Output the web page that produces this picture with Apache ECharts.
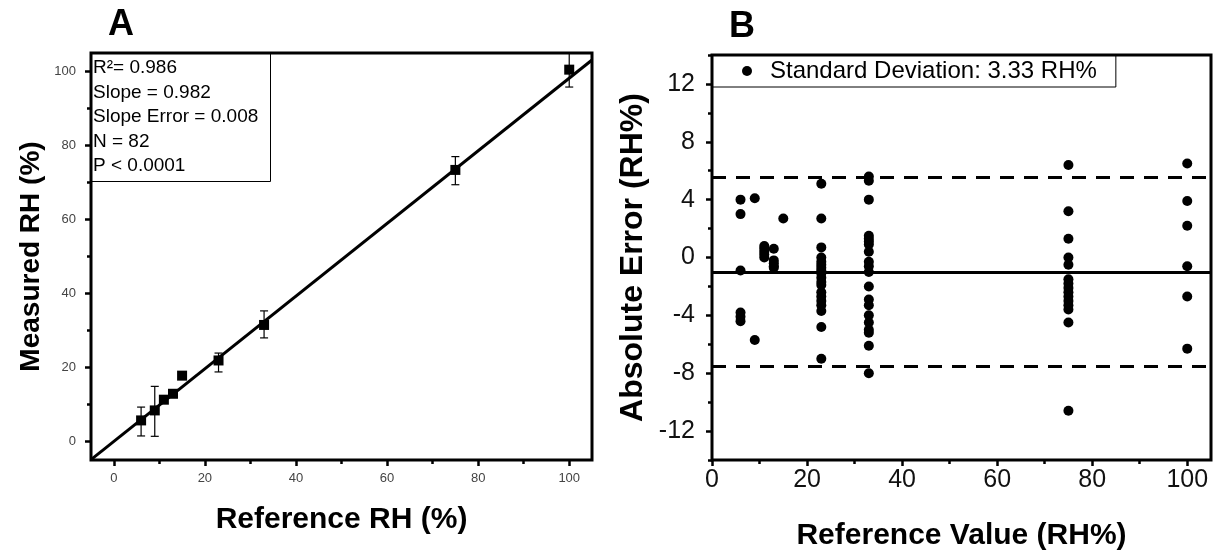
<!DOCTYPE html>
<html>
<head>
<meta charset="utf-8">
<script src="https://cdn.jsdelivr.net/npm/echarts@6/dist/echarts.min.js"></script>
<style>
  html, body { margin: 0; padding: 0; background: #fff; }
  #chart { width: 1225px; height: 552px; }
</style>
</head>
<body>
<div id="chart"></div>
<script>
// Panel A: measured vs reference humidity (means with error bars) and linear fit
const refA      = [6, 9, 11, 13, 15, 23, 33, 75, 100];
const measuredA = [5.7, 8.4, 11.3, 12.9, 17.8, 21.9, 31.5, 73.4, 100.5];
const errLowA   = [1.5, 1.4, null, null, null, 18.8, 28.0, 69.4, 95.8];
const errHighA  = [9.3, 14.9, null, null, null, 23.9, 35.3, 77.0, 105.0];
const fitSlope = 0.982;
const fitIntercept = 0.0;
const statsLines = ['R\u00B2= 0.986', 'Slope = 0.982', 'Slope Error = 0.008', 'N = 82', 'P < 0.0001'];
const ticksA = [0, 20, 40, 60, 80, 100];
const minorTicksA = [10, 30, 50, 70, 90];

// Panel B: absolute error of each reading against its reference value
const refB = [
  6, 6, 6, 6, 6, 6,
  9, 9,
  11, 11, 11, 11, 11,
  13, 13, 13, 13, 13,
  15,
  23, 23, 23, 23, 23, 23, 23, 23, 23, 23, 23, 23, 23, 23, 23, 23, 23, 23, 23,
  33, 33, 33, 33, 33, 33, 33, 33, 33, 33, 33, 33, 33, 33, 33, 33, 33, 33, 33, 33,
  75, 75, 75, 75, 75, 75, 75, 75, 75, 75, 75, 75, 75, 75, 75,
  100, 100, 100, 100, 100, 100
];
const errB = [
  4.0, 3.0, -0.9, -3.8, -4.1, -4.4,
  4.1, -5.7,
  0.8, 0.6, 0.4, 0.2, 0.0,
  0.6, -0.2, -0.4, -0.6, -0.7,
  2.7,
  5.1, 2.7, 0.7, 0.0, -0.3, -0.5, -0.7, -0.9, -1.1, -1.4, -1.7, -1.9, -2.4, -2.7, -3.0, -3.3, -3.7, -4.8, -7.0,
  5.6, 5.3, 4.0, 1.5, 1.3, 1.1, 0.9, 0.4, -0.3, -0.6, -1.0, -2.0, -2.9, -3.3, -4.0, -4.5, -5.0, -5.2, -6.1, -8.0,
  6.4, 3.2, 1.3, 0.0, -0.5, -1.5, -1.8, -2.1, -2.4, -2.7, -3.0, -3.3, -3.6, -4.5, -10.6,
  6.5, 3.9, 2.2, -0.6, -2.7, -6.3
];
const meanErr = -1.0;
const upperLimit = 5.53;
const lowerLimit = -7.53;
const sdLabel = 'Standard Deviation: 3.33 RH%';
const ticksBX = [0, 20, 40, 60, 80, 100];
const minorTicksBX = [10, 30, 50, 70, 90];
const ticksBY = [-12, -8, -4, 0, 4, 8, 12];
const minorTicksBY = [-14, -10, -6, -2, 2, 6, 10, 14];

const FONT = 'Liberation Sans, Arial, sans-serif';

const pointsA = refA.map((x, i) => [x, measuredA[i]]);
const barsA = refA.map((x, i) => [x, errLowA[i], errHighA[i]]).filter(d => d[1] !== null);
const fitLine = [-5, 105].map(x => [x, fitSlope * x + fitIntercept]);
const pointsB = refB.map((x, i) => [x, errB[i]]);

function majorAxis(grid, pos, min, max, ticks, labelStyle, extra) {
  return Object.assign({
    type: 'value', gridIndex: grid, position: pos, min: min, max: max,
    axisLine: { show: false, onZero: false },
    splitLine: { show: false },
    axisTick: { show: true, customValues: ticks, length: 6, lineStyle: { color: '#000', width: 2.5 } },
    axisLabel: Object.assign({ customValues: ticks, fontFamily: FONT }, labelStyle)
  }, extra || {});
}
function minorAxis(grid, pos, min, max, ticks, len) {
  return {
    type: 'value', gridIndex: grid, position: pos, min: min, max: max,
    axisLine: { show: false, onZero: false },
    splitLine: { show: false },
    axisLabel: { show: false },
    axisTick: { show: true, customValues: ticks, length: len, lineStyle: { color: '#000', width: 2.5 } }
  };
}

const smallLabelX = { fontSize: 13, color: '#444', margin: 12 };
const smallLabelY = { fontSize: 13, color: '#444', margin: 15 };
const bigLabelX = { fontSize: 25, color: '#111', margin: 8 };
const bigLabelY = { fontSize: 25, color: '#111', margin: 17 };
function nameStyle(size) {
  return { fontFamily: FONT, fontWeight: 'bold', fontSize: size, color: '#000' };
}

const option = {
  animation: false,
  backgroundColor: '#fff',
  title: [
    { text: 'A', left: 103, top: 2, textStyle: { fontFamily: FONT, fontWeight: 'bold', fontSize: 36, color: '#000' } },
    { text: 'B', left: 724, top: 4, textStyle: { fontFamily: FONT, fontWeight: 'bold', fontSize: 36, color: '#000' } },
    {
      text: statsLines.join('\n'), left: 91, top: 53,
      borderColor: '#000', borderWidth: 1, padding: [3, 12, 3, 2],
      textStyle: { fontFamily: FONT, fontWeight: 'normal', fontSize: 19, lineHeight: 24.5, color: '#000' }
    }
  ],
  legend: {
    data: [sdLabel], left: 712, top: 55, orient: 'horizontal',
    icon: 'circle', itemWidth: 36, itemHeight: 10,
    borderColor: '#000', borderWidth: 1, padding: [4, 19, 4, 30],
    textStyle: { fontFamily: FONT, fontSize: 24, color: '#000' }
  },
  grid: [
    { left: 91, top: 53, width: 501, height: 407, show: true, borderColor: '#000', borderWidth: 3,
      backgroundColor: 'transparent', outerBoundsMode: 'none' },
    { left: 712, top: 55, width: 499, height: 405, show: true, borderColor: '#000', borderWidth: 3,
      backgroundColor: 'transparent', outerBoundsMode: 'none' }
  ],
  xAxis: [
    majorAxis(0, 'bottom', -5, 105, ticksA, smallLabelX, {
      name: 'Reference RH (%)', nameLocation: 'middle', nameGap: 45, nameTextStyle: nameStyle(30)
    }),
    minorAxis(0, 'bottom', -5, 105, minorTicksA, 4),
    majorAxis(1, 'bottom', 0, 105, ticksBX, bigLabelX, {
      name: 'Reference Value (RH%)', nameLocation: 'middle', nameGap: 61, nameTextStyle: nameStyle(30)
    }),
    minorAxis(1, 'bottom', 0, 105, minorTicksBX, 4)
  ],
  yAxis: [
    majorAxis(0, 'left', -5, 105, ticksA, smallLabelY, {
      name: 'Measured RH (%)', nameLocation: 'middle', nameGap: 46, nameTextStyle: nameStyle(28)
    }),
    minorAxis(0, 'left', -5, 105, minorTicksA, 4),
    majorAxis(1, 'left', -14, 14, ticksBY, bigLabelY, {
      name: 'Absolute Error (RH%)', nameLocation: 'middle', nameGap: 63, nameTextStyle: nameStyle(32)
    }),
    minorAxis(1, 'left', -14, 14, minorTicksBY, 4)
  ],
  series: [
    {
      type: 'line', xAxisIndex: 0, yAxisIndex: 0, data: fitLine,
      showSymbol: false, symbol: 'none', lineStyle: { color: '#000', width: 3 }, z: 3, silent: true
    },
    {
      type: 'custom', xAxisIndex: 0, yAxisIndex: 0, data: barsA, clip: true, z: 4, silent: true,
      renderItem: function (params, api) {
        const x = api.value(0);
        const lo = api.coord([x, api.value(1)]);
        const hi = api.coord([x, api.value(2)]);
        const cap = 4;
        const st = { stroke: '#000', lineWidth: 1.2 };
        return {
          type: 'group',
          children: [
            { type: 'line', shape: { x1: lo[0], y1: lo[1], x2: hi[0], y2: hi[1] }, style: st },
            { type: 'line', shape: { x1: lo[0] - cap, y1: lo[1], x2: lo[0] + cap, y2: lo[1] }, style: st },
            { type: 'line', shape: { x1: hi[0] - cap, y1: hi[1], x2: hi[0] + cap, y2: hi[1] }, style: st }
          ]
        };
      }
    },
    {
      type: 'scatter', xAxisIndex: 0, yAxisIndex: 0, data: pointsA,
      symbol: 'rect', symbolSize: 10, itemStyle: { color: '#000', opacity: 1 }, z: 5
    },
    {
      name: sdLabel, type: 'scatter', xAxisIndex: 2, yAxisIndex: 2, data: pointsB,
      symbol: 'circle', symbolSize: 10, itemStyle: { color: '#000', opacity: 1 }, z: 5,
      markLine: {
        silent: true, symbol: ['none', 'none'], label: { show: false },
        data: [
          { yAxis: meanErr, lineStyle: { type: 'solid', color: '#000', width: 3 } },
          { yAxis: upperLimit, lineStyle: { type: [14, 10], color: '#000', width: 3 } },
          { yAxis: lowerLimit, lineStyle: { type: [14, 10], color: '#000', width: 3 } }
        ]
      }
    }
  ]
};

const chart = echarts.init(document.getElementById('chart'), null, { renderer: 'canvas' });
chart.setOption(option);
</script>
</body>
</html>
